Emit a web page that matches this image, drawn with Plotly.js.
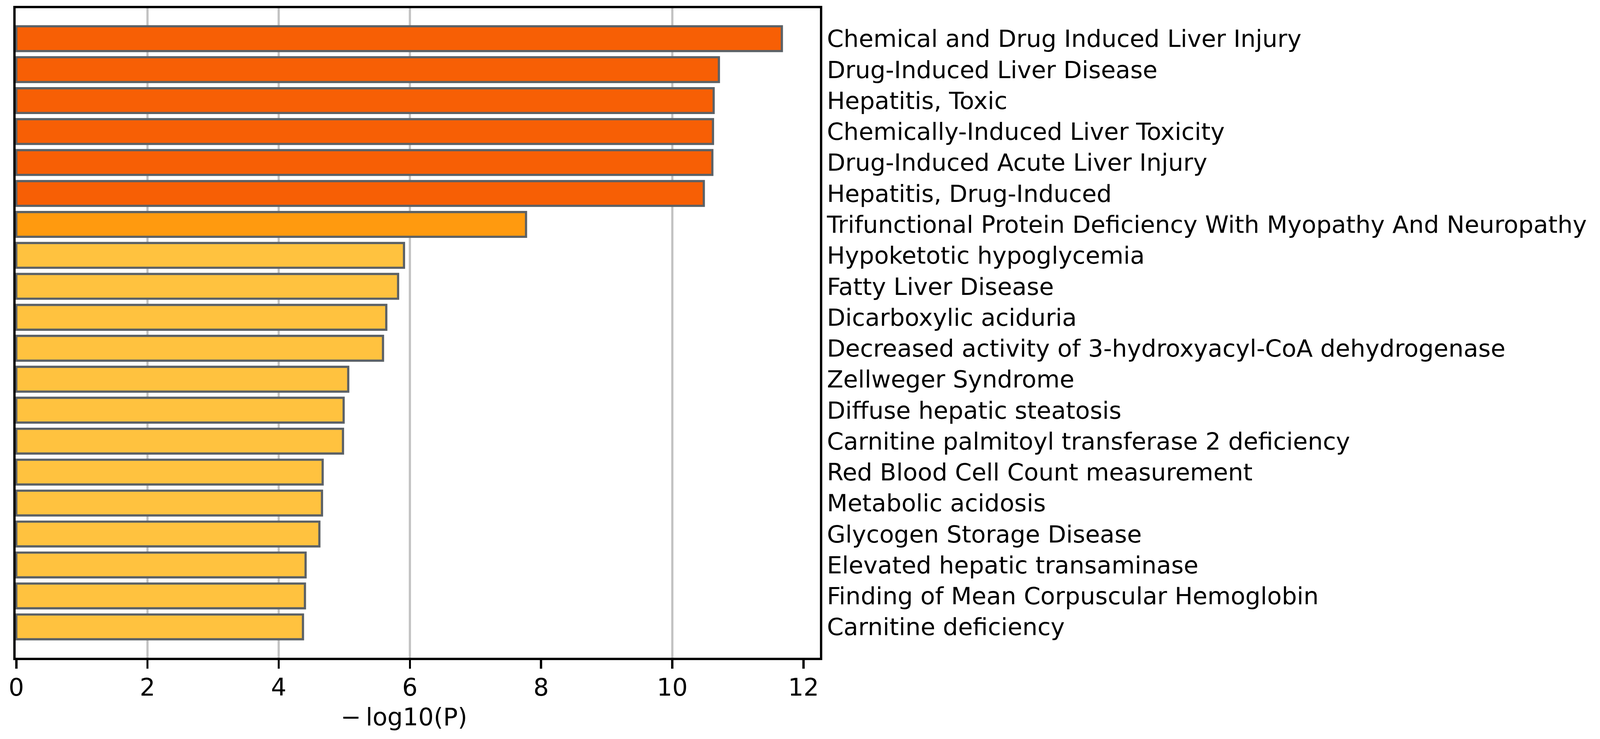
<!DOCTYPE html>
<html>
<head>
<meta charset="utf-8">
<script src="https://cdn.plot.ly/plotly-3.0.1.min.js"></script>
<style>html,body{margin:0;padding:0;background:#fff;overflow:hidden;}</style>
</head>
<body>
<div id="chart"></div>
<script>
const categories = [
  "Chemical and Drug Induced Liver Injury",
  "Drug-Induced Liver Disease",
  "Hepatitis, Toxic",
  "Chemically-Induced Liver Toxicity",
  "Drug-Induced Acute Liver Injury",
  "Hepatitis, Drug-Induced",
  "Trifunctional Protein Deficiency With Myopathy And Neuropathy",
  "Hypoketotic hypoglycemia",
  "Fatty Liver Disease",
  "Dicarboxylic aciduria",
  "Decreased activity of 3-hydroxyacyl-CoA dehydrogenase",
  "Zellweger Syndrome",
  "Diffuse hepatic steatosis",
  "Carnitine palmitoyl transferase 2 deficiency",
  "Red Blood Cell Count measurement",
  "Metabolic acidosis",
  "Glycogen Storage Disease",
  "Elevated hepatic transaminase",
  "Finding of Mean Corpuscular Hemoglobin",
  "Carnitine deficiency"
];
const negLog10P = [11.67, 10.71, 10.63, 10.62, 10.61, 10.48, 7.77, 5.91, 5.82, 5.64,
                   5.59, 5.06, 4.99, 4.98, 4.67, 4.66, 4.62, 4.41, 4.40, 4.37];
const barColors = ["#F75F05","#F75F05","#F75F05","#F75F05","#F75F05","#F75F05",
                   "#FF9A0F",
                   "#FFC23F","#FFC23F","#FFC23F","#FFC23F","#FFC23F","#FFC23F","#FFC23F",
                   "#FFC23F","#FFC23F","#FFC23F","#FFC23F","#FFC23F","#FFC23F"];
const xTickVals = [0, 2, 4, 6, 8, 10, 12];
const gridValues = [2, 4, 6, 10];
const xTitle = "\u2212\u2009log10(P)";

const FONT = "DejaVu Sans, Liberation Sans, sans-serif";

// The design is 4351 x 1892; fit it to the real viewport (browsers may cap the width).
const W = Math.min(window.innerWidth || 4351, 4351);
const H = window.innerHeight || 1892;
const sx = W / 4351;
const sy = H / 1892;
const sf = Math.min(sx, sy);
const div = document.getElementById("chart");
div.style.width = W + "px";
div.style.height = H + "px";

const trace = {
  type: "bar",
  orientation: "h",
  x: negLog10P,
  y: categories,
  width: 0.8,
  marker: { color: barColors, line: { color: "#5B6166", width: 6 * sf } },
  hoverinfo: "skip"
};

const shapes = gridValues.map(v => ({
  type: "line", layer: "below", xref: "x", yref: "paper",
  x0: v, x1: v, y0: 0, y1: 1,
  line: { color: "#C2C2C2", width: 6 * sf }
}));

const layout = {
  width: W, height: H,
  margin: { l: Math.round(42 * sx), r: Math.round(2121 * sx), t: Math.round(21 * sy), b: Math.round(208 * sy), pad: 0 },
  paper_bgcolor: "#ffffff", plot_bgcolor: "#ffffff",
  showlegend: false,
  font: { family: FONT, color: "#000000", size: 65 * sf },
  xaxis: {
    range: [-0.01, 12.25], autorange: false,
    tickvals: xTickVals, ticktext: xTickVals.map(String),
    ticks: "outside", ticklen: 22 * sy, tickwidth: 6 * sf, tickcolor: "#000000",
    showgrid: false, zeroline: false,
    showline: true, linecolor: "#000000", linewidth: 6 * sf, mirror: true,
    tickfont: { family: FONT, size: 66 * sf, color: "#000000" },
    ticklabelstandoff: -5 * sy
  },
  yaxis: {
    type: "category", categoryorder: "array", categoryarray: categories,
    range: [19.997, -0.984], autorange: false,
    side: "right", ticks: "", showgrid: false, zeroline: false,
    showline: true, linecolor: "#000000", linewidth: 6 * sf, mirror: true,
    tickfont: { family: FONT, size: 65 * sf, color: "#000000" },
    ticklabelstandoff: 5 * sx
  },
  annotations: [{
    text: xTitle, xref: "paper", yref: "paper",
    x: 0.483, y: -0.0914, xanchor: "center", yanchor: "middle",
    showarrow: false, font: { family: FONT, size: 66 * sf, color: "#000000" }
  }],
  shapes: shapes
};

Plotly.newPlot("chart", [trace], layout, { staticPlot: true, displayModeBar: false });
</script>
</body>
</html>
